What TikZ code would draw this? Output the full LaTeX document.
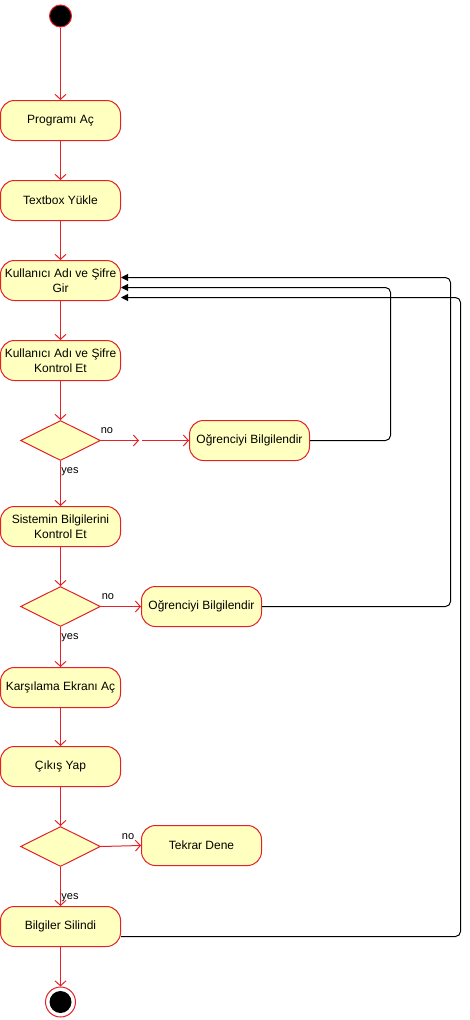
\documentclass[tikz,border=0pt]{standalone}
\usepackage{fontspec}
\setmainfont{Liberation Sans}
\usetikzlibrary{shapes.geometric,arrows.meta,calc}
\definecolor{ured}{RGB}{226,34,40}
\definecolor{uyel}{RGB}{255,255,192}
\begin{document}
\begin{tikzpicture}[x=1pt,y=-1pt,
  act/.style={draw=ured,fill=uyel,rounded corners=14pt,minimum width=120pt,minimum height=40pt,
    inner sep=0pt,align=center,font=\fontsize{12}{14.5}\selectfont,line width=1pt},
  dec/.style={diamond,aspect=2,draw=ured,fill=uyel,minimum width=80pt,minimum height=40pt,inner sep=0pt,line width=1pt},
  flow/.style={draw=ured,line width=1pt,-{Straight Barb[length=5pt,width=11pt]}},
  ret/.style={draw=black,line width=1pt,rounded corners=5pt,-{Triangle[length=7pt,width=7pt]}},
  lbl/.style={font=\fontsize{11}{13}\selectfont,inner sep=0pt},
  startn/.style={circle,draw=ured,fill=black,minimum size=22pt,inner sep=0pt,line width=1pt},
  endn/.style={circle,draw=ured,fill=white,minimum size=30pt,inner sep=0pt,line width=1pt,
    path picture={\fill[black] (path picture bounding box.center) circle (11pt);}}
]
\useasboundingbox (0,0) rectangle (470,1020);

\node[startn] (s) at (60.5,16) {};
\node[act] (p) at (60.5,120.5) {Programı Aç};
\node[act] (t) at (60.5,200.5) {Textbox Yükle};
\node[act] (k) at (60.5,280.5) {Kullanıcı Adı ve Şifre\\Gir};
\node[act] (kk) at (60.5,360.5) {Kullanıcı Adı ve Şifre\\Kontrol Et};
\node[dec] (d1) at (60.5,440.5) {};
\node[act] (o1) at (249.5,440.5) {Oğrenciyi Bilgilendir};
\node[act] (sb) at (60.5,526.5) {Sistemin Bilgilerini\\Kontrol Et};
\node[dec] (d2) at (60.5,606.5) {};
\node[act] (o2) at (201.5,606.5) {Oğrenciyi Bilgilendir};
\node[act] (ka) at (60.5,687.5) {Karşılama Ekranı Aç};
\node[act] (c) at (60.5,766.5) {Çıkış Yap};
\node[dec] (d3) at (60.5,846.5) {};
\node[act] (td) at (201.5,845.5) {Tekrar Dene};
\node[act] (bs) at (60.5,926.5) {Bilgiler Silindi};
\node[endn] (e) at (60.5,1002) {};

\coordinate (j1) at (140,440.5);

\draw[flow] (s) -- (p);
\draw[flow] (p) -- (t);
\draw[flow] (t) -- (k);
\draw[flow] (k) -- (kk);
\draw[flow] (kk.south -| d1.north) -- (d1.north);
\draw[flow,shorten >=1pt] (d1.east) -- (j1);
\draw[flow,shorten <=2pt] (j1) -- (o1.west);
\draw[flow] (d1.south) -- (sb.north -| d1.south);
\draw[flow] (sb.south -| d2.north) -- (d2.north);
\draw[flow] (d2.east) -- (o2.west);
\draw[flow] (d2.south) -- (ka.north -| d2.south);
\draw[flow] (ka.south -| d2.south) -- (c.north -| d2.south);
\draw[flow] (c.south -| d3.north) -- (d3.north);
\draw[flow] (d3.east) -- (td.west);
\draw[flow] (d3.south) -- (bs.north);
\draw[flow] (bs.south) -- (e.north);

\node[lbl] at (107,431) {no};
\node[lbl] at (70,472) {yes};
\node[lbl] at (108,597) {no};
\node[lbl] at (70,638) {yes};
\node[lbl] at (128,837) {no};
\node[lbl] at (70,898) {yes};

\draw[ret] (o1.east) -- (390.5,440.5) |- ([yshift=-7pt]k.east);
\draw[ret] (o2.east) -- (450.5,606.5) |- ([yshift=3pt]k.east);
\draw[ret] ([yshift=-10pt]bs.east) -- (460.5,936.5) |- ([yshift=-17pt]k.east);
\end{tikzpicture}
\end{document}
